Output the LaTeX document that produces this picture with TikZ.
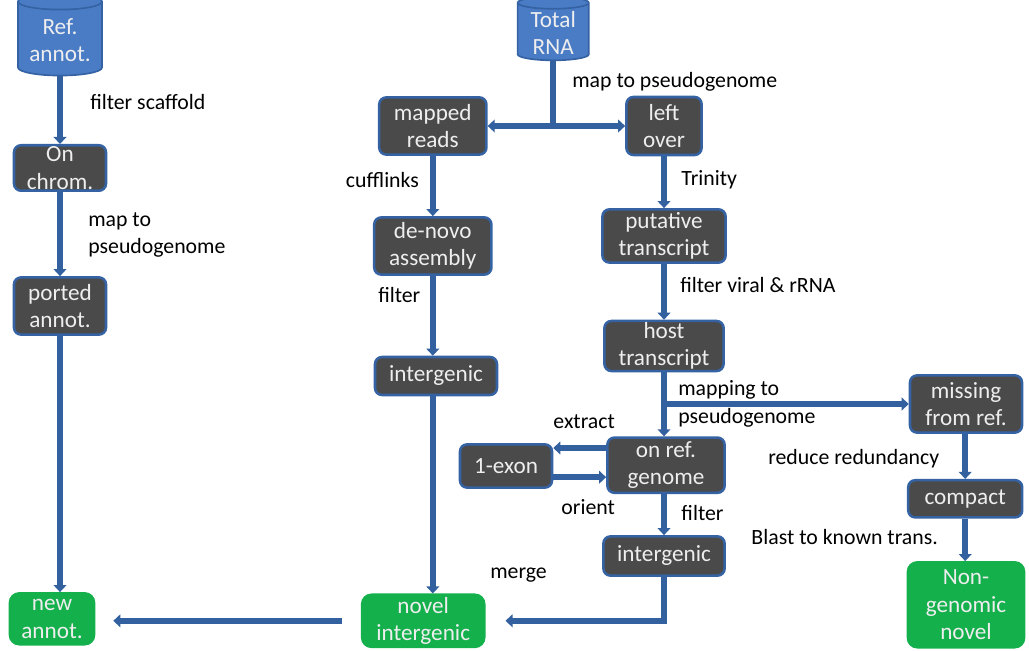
\documentclass[tikz,border=0pt]{standalone}
\usepackage{fontspec}
\setmainfont{Carlito}
\usepackage{tikz}
\usetikzlibrary{shapes.geometric, arrows.meta, positioning}
\definecolor{boxgray}{HTML}{4A4A4A}
\definecolor{boxblue}{HTML}{3562A3}
\definecolor{lineblue}{HTML}{33609E}
\definecolor{cylblue}{HTML}{4A7CC6}
\definecolor{outgreen}{HTML}{14B04C}
\definecolor{boxtext}{HTML}{EEEEEE}
\tikzset{
  % processing steps
  proc/.style={rectangle, draw=boxblue, fill=boxgray, line width=1.8pt,
               rounded corners=5pt, text=boxtext, align=center,
               font=\fontsize{16.5}{19.5}\selectfont, inner sep=1pt},
  % input data sets
  db/.style={cylinder, shape border rotate=90, aspect=0.25, draw=boxblue,
             fill=cylblue, line width=1.2pt, text=boxtext, align=center,
             font=\fontsize{16.5}{19.5}\selectfont, inner sep=1pt},
  % final results
  result/.style={rectangle, draw=outgreen, fill=outgreen, line width=1pt,
                 rounded corners=7pt, text=boxtext, align=center,
                 font=\fontsize{16.5}{19.5}\selectfont, inner sep=1pt},
  % connectors and step labels
  flow/.style={draw=lineblue, line width=4pt},
  arr/.style={flow, -{Triangle[length=5pt, width=9pt]}},
  lbl/.style={font=\fontsize{15.5}{19.5}\selectfont, text=black, align=left,
              inner sep=0pt},
}
\begin{document}
\begin{tikzpicture}

\useasboundingbox (0,0) rectangle (25.725,16.25);

% ── Reference annotation column ──────────────────────────────────────────────
\node[db, minimum width=2.1cm, minimum height=2.05cm] (refann) at (1.5, 15.25) {Ref.\\annot.};
\node[proc, minimum width=2.3cm, minimum height=1.1cm] (onchrom) at (1.5, 12.05) {On\\chrom.};
\node[proc, minimum width=2.3cm, minimum height=1.43cm] (ported) at (1.5, 8.6) {ported\\annot.};
\node[result, minimum width=2.13cm, minimum height=1.3cm] (newann) at (1.3, 0.78) {new\\annot.};

% ── RNA column, left branch ──────────────────────────────────────────────────
\node[db, minimum width=1.78cm, minimum height=1.5cm] (total) at (13.83, 15.43) {Total\\RNA};
\node[proc, minimum width=2.68cm, minimum height=1.43cm] (mapped) at (10.82, 13.1) {mapped\\reads};
\node[proc, minimum width=2.93cm, minimum height=1.43cm] (denovo) at (10.82, 10.1) {de-novo\\assembly};
\node[proc, minimum width=3.05cm, minimum height=0.95cm] (interL) at (10.9, 6.85) {intergenic};
\node[result, minimum width=3.08cm, minimum height=1.33cm] (novelint) at (10.58, 0.73) {novel\\intergenic};

% ── RNA column, right branch ─────────────────────────────────────────────────
\node[proc, minimum width=1.88cm, minimum height=1.45cm] (leftover) at (16.6, 13.1) {left\\over};
\node[proc, minimum width=3.08cm, minimum height=1.33cm] (putative) at (16.6, 10.35) {putative\\transcript};
\node[proc, minimum width=2.98cm, minimum height=1.23cm] (host) at (16.6, 7.6) {host\\transcript};
\node[proc, minimum width=2.93cm, minimum height=1.38cm] (onref) at (16.65, 4.62) {on ref.\\genome};
\node[proc, minimum width=2.3cm, minimum height=1.08cm] (exon) at (12.65, 4.6) {1-exon};
\node[proc, minimum width=3.03cm, minimum height=0.98cm] (interM) at (16.6, 2.35) {intergenic};

% ── Non-genomic column ───────────────────────────────────────────────────────
\node[proc, minimum width=2.8cm, minimum height=1.43cm] (missing) at (24.15, 6.15) {missing\\from ref.};
\node[proc, minimum width=2.85cm, minimum height=0.93cm] (compact) at (24.13, 3.78) {compact};
\node[result, minimum width=2.93cm, minimum height=2.15cm] (nongen) at (24.15, 1.13) {Non-\\genomic\\novel};

% ── Junctions ────────────────────────────────────────────────────────────────
\coordinate (jrna) at (13.83, 13.1);
\coordinate (jhost) at (16.6, 6.15);

% ── Step labels ──────────────────────────────────────────────────────────────
\node[lbl, anchor=west] (lscaff) at (2.25, 13.7) {filter scaffold};
\node[lbl, anchor=west] (lmapL) at (2.2, 10.38) {map to\\pseudogenome};
\node[lbl, anchor=west] (lmapT) at (14.3, 14.2) {map to pseudogenome};
\node[lbl, anchor=east] (lcuff) at (10.48, 11.75) {cufflinks};
\node[lbl, anchor=west] (ltrin) at (17.03, 11.75) {Trinity};
\node[lbl, anchor=west] (lfiltL) at (9.45, 8.88) {filter};
\node[lbl, anchor=west] (lviral) at (17.0, 9.13) {filter viral \& rRNA};
\node[lbl, anchor=west] (lmapto) at (16.95, 6.5) {mapping to};
\node[lbl, anchor=west] (lpseudo) at (16.95, 5.8) {pseudogenome};
\node[lbl, anchor=west] (lextract) at (13.83, 5.7) {extract};
\node[lbl, anchor=west] (lorient) at (14.03, 3.58) {orient};
\node[lbl, anchor=west] (lfiltM) at (17.03, 3.43) {filter};
\node[lbl, anchor=west] (lmerge) at (12.25, 1.88) {merge};
\node[lbl, anchor=west] (lredund) at (19.2, 4.78) {reduce redundancy};
\node[lbl, anchor=west] (lblast) at (18.78, 2.83) {Blast to known trans.};

% ── Connectors ───────────────────────────────────────────────────────────────
% reference annotation chain
\draw[arr] (refann.south) -- (onchrom.north);
\draw[arr] (onchrom.south) -- (ported.north);
\draw[arr] (ported.south) -- (ported.south |- newann.north);

% total RNA split
\draw[flow] (total.south) -- (jrna);
\draw[arr] (jrna) -- (mapped.east);
\draw[arr] (jrna) -- (leftover.west);

% de-novo branch
\draw[arr] (mapped.south) -- (denovo.north);
\draw[arr] (denovo.south) -- (denovo.south |- interL.north);
\draw[arr] (denovo.south |- interL.south) -- (denovo.south |- novelint.north);

% trinity branch
\draw[arr] (leftover.south) -- (putative.north);
\draw[arr] (putative.south) -- (host.north);
\draw[flow] (host.south) -- (jhost);
\draw[arr] (jhost) -- (onref.north -| jhost);
\draw[arr] (jhost) -- (missing.west);

% single exon round trip
\draw[arr] ([yshift=4.3mm]onref.west) -- ([yshift=4.3mm]onref.west -| exon.east);
\draw[arr] ([yshift=-2.8mm]exon.east) -- ([yshift=-2.8mm]exon.east -| onref.west);

% towards the novel sets
\draw[arr] (onref.south -| interM) -- (interM.north);
\draw[arr, shorten >=5mm] (interM.south) |- (novelint.east);
\draw[arr, shorten <=4.8mm, shorten >=4.5mm] (novelint.west) -- (novelint.west -| newann.east);

% non-genomic chain
\draw[arr] (missing.south -| compact) -- (compact.north);
\draw[arr] (compact.south) -- (compact.south |- nongen.north);

\end{tikzpicture}
\end{document}
